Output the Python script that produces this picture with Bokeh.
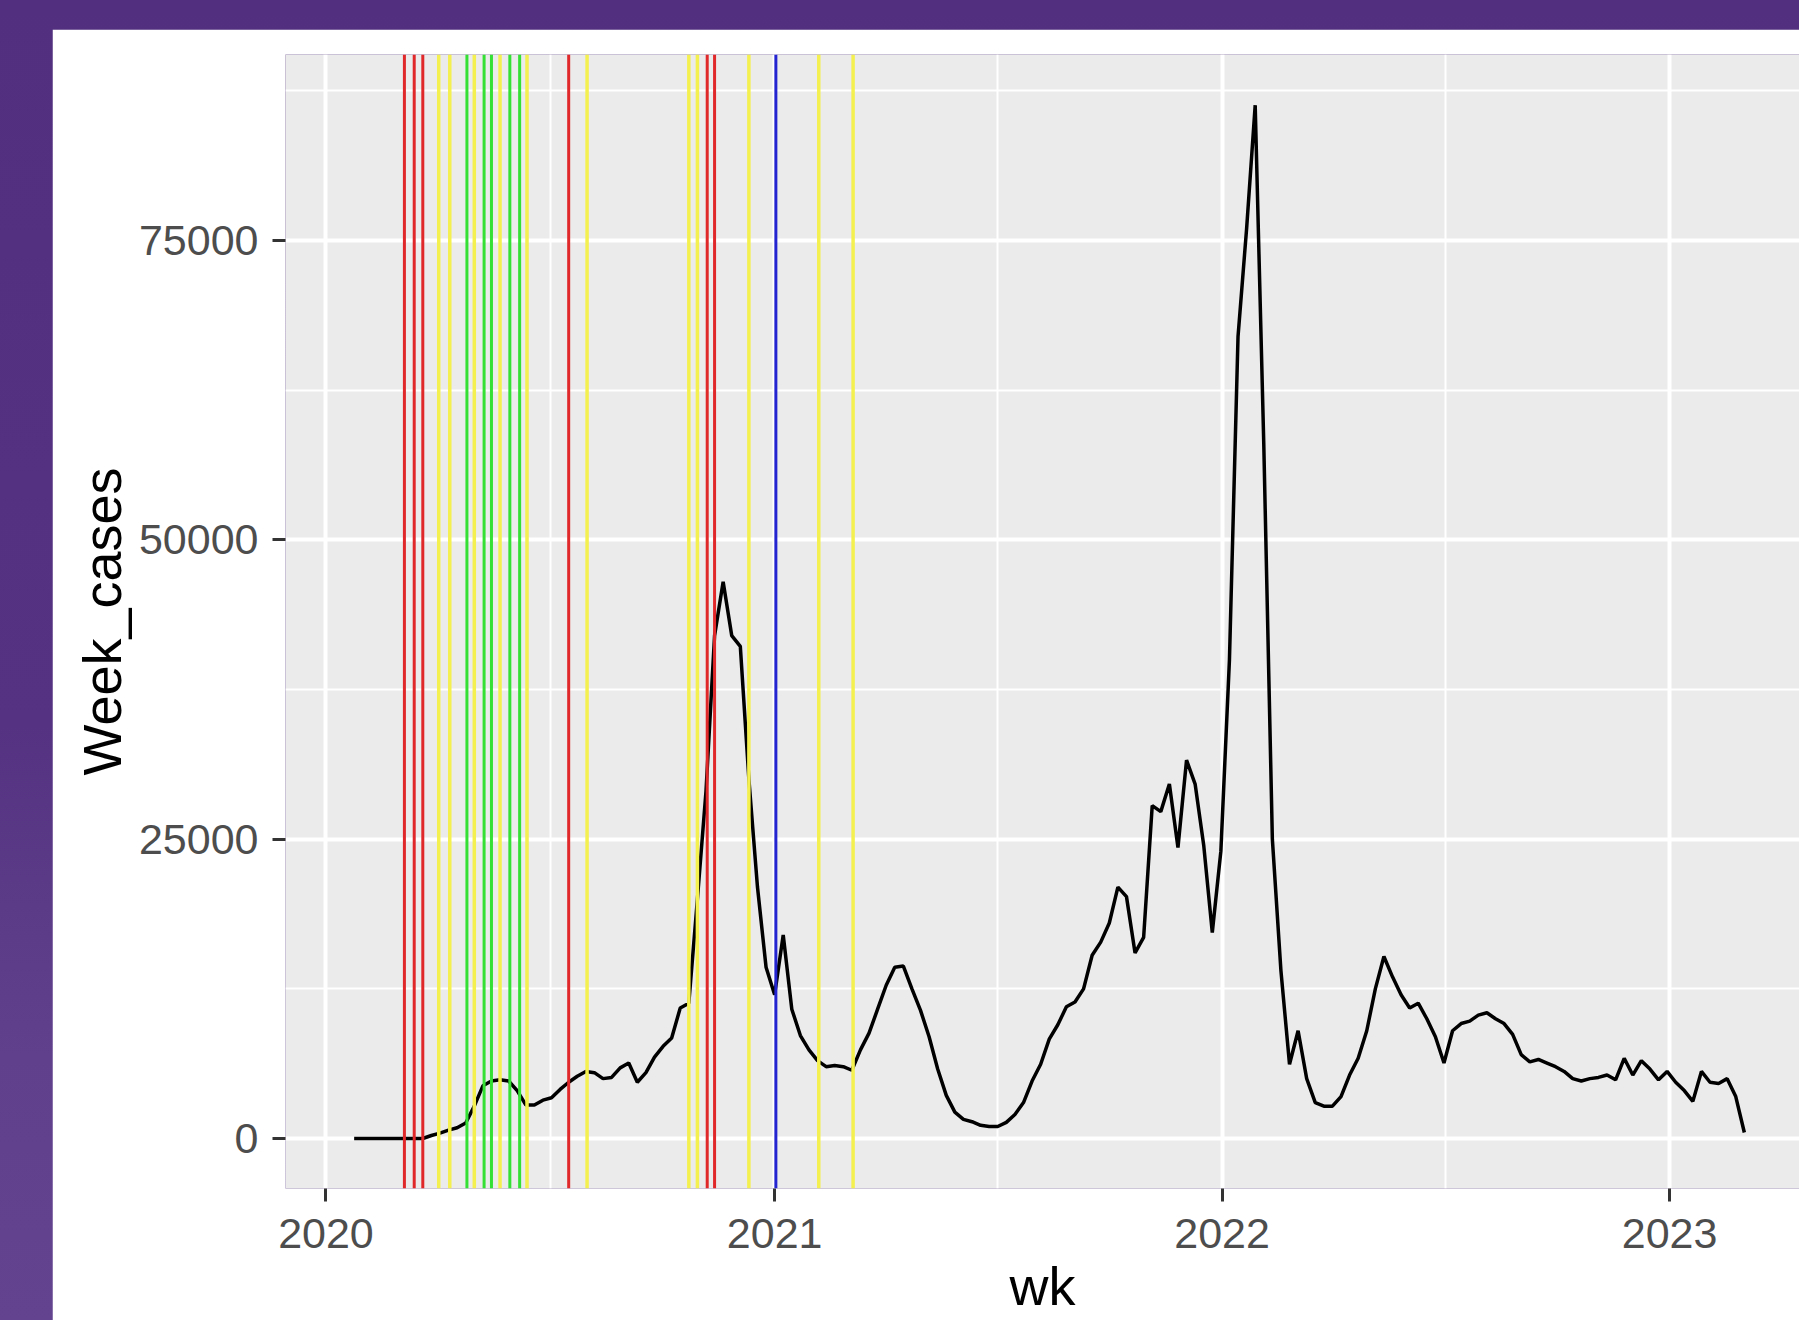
import pandas as pd
from bokeh.plotting import figure
from bokeh.models import Range1d, FixedTicker, DatetimeTickFormatter, Span, BasicTickFormatter
from bokeh.layouts import column
from bokeh.embed import file_html
from bokeh.resources import INLINE

# ---------------- data ----------------
first_week = "2020-01-24"
week_cases = [
    0, 0, 0, 0, 0, 0, 0, 0, 0,
    250, 450, 700, 900, 1300,
    2700, 4400, 4800, 4900, 4800,
    4000, 2800, 2800, 3200, 3400,
    4100, 4700, 5200, 5600, 5500,
    5000, 5100, 5900, 6300, 4700,
    5500, 6800, 7700, 8400, 10900,
    11300, 20000, 29000, 42000, 46500,
    42000, 41100, 30000, 21000, 14300,
    12000, 17000, 10800, 8600, 7400,
    6500, 6000, 6100, 6000, 5700,
    7400, 8800, 10800, 12800, 14300,
    14400, 12500, 10700, 8500, 5800,
    3600, 2200, 1600, 1400, 1100,
    1000, 1000, 1350, 2000, 3000,
    4800, 6200, 8300, 9500, 11000,
    11400, 12500, 15300, 16400, 18000,
    21000, 20200, 15500, 16800, 27800,
    27300, 29600, 24300, 31600, 29600,
    24500, 17200, 24000, 40000, 67000,
    76000, 86300, 58000, 25000, 14000,
    6200, 9000, 5000, 3000, 2700,
    2700, 3500, 5300, 6700, 9000,
    12500, 15200, 13500, 12000, 10900,
    11300, 10000, 8500, 6300, 9000,
    9600, 9800, 10300, 10500, 10000,
    9600, 8700, 7000, 6400, 6600,
    6300, 6000, 5600, 5000, 4800,
    5000, 5100, 5300, 4900, 6700,
    5300, 6500, 5800, 4900, 5600,
    4700, 4000, 3100, 5600, 4700,
    4600, 5000, 3500, 500,
]

red_dates = ["2020-03-05", "2020-03-13", "2020-03-20", "2020-07-17", "2020-11-07", "2020-11-13"]
yellow_dates = ["2020-04-02", "2020-04-11", "2020-05-01", "2020-05-22", "2020-06-13", "2020-08-01",
                "2020-10-23", "2020-10-30", "2020-12-11", "2021-02-06", "2021-03-06"]
green_dates = ["2020-04-25", "2020-05-09", "2020-05-15", "2020-05-30", "2020-06-07"]
blue_dates = ["2021-01-02"]

year_ticks = [2020, 2021, 2022, 2023]
y_ticks = [0, 25000, 50000, 75000]
y_minor = [12500, 37500, 62500, 87500]

x_start, x_end = "2019-11-29", "2023-04-17"
y_start, y_end = -4176, 90534

# ---------------- helpers ----------------
def ms(d):
    return pd.Timestamp(d).timestamp() * 1000.0

wk = pd.date_range(first_week, periods=len(week_cases), freq="7D")

p = figure(width=1747, height=1305, x_axis_type="datetime",
           output_backend="svg", toolbar_location=None,
           x_range=Range1d(ms(x_start), ms(x_end)),
           y_range=Range1d(y_start, y_end),
           min_border_left=233, min_border_right=0,
           min_border_top=25, min_border_bottom=146,
           margin=(29, 0, 0, 52))

p.background_fill_color = "#EBEBEB"
p.border_fill_color = "white"
p.outline_line_color = None

p.line(wk, week_cases, line_color="black", line_width=3.5)

for dates, col, w in ((red_dates, "#E0282A", 3), (yellow_dates, "#F4F050", 3.5),
                      (green_dates, "#33E033", 3), (blue_dates, "#2424D0", 3)):
    for d in dates:
        p.add_layout(Span(location=ms(d), dimension="height", line_color=col, line_width=w))

xt = FixedTicker(ticks=[ms(f"{y}-01-01") for y in year_ticks],
                 minor_ticks=[ms(f"{y}-07-02") for y in [2019] + year_ticks])
yt = FixedTicker(ticks=y_ticks, minor_ticks=y_minor)
p.xaxis.ticker = xt
p.yaxis.ticker = yt
p.xgrid.ticker = xt
p.ygrid.ticker = yt
p.xaxis.formatter = DatetimeTickFormatter(years="%Y", months="%Y", days="%Y")
p.yaxis.formatter = BasicTickFormatter(use_scientific=False)

p.grid.grid_line_color = "white"
p.grid.grid_line_width = 4
p.grid.minor_grid_line_color = "white"
p.grid.minor_grid_line_width = 2

p.xaxis.axis_label = "wk"
p.yaxis.axis_label = "Week_cases"
for ax in (p.xaxis[0], p.yaxis[0]):
    ax.axis_line_color = None
    ax.major_tick_out = 13
    ax.major_tick_in = 0
    ax.minor_tick_out = 0
    ax.minor_tick_in = 0
    ax.major_tick_line_color = "#333333"
    ax.major_tick_line_width = 3
    ax.major_label_text_font = "Liberation Sans"
    ax.major_label_text_font_size = "43px"
    ax.major_label_text_color = "#4D4D4D"
    ax.axis_label_text_font = "Liberation Sans"
    ax.axis_label_text_font_size = "54px"
    ax.axis_label_text_font_style = "normal"
    ax.axis_label_text_color = "black"
p.yaxis.major_label_standoff = 14
p.xaxis.major_label_standoff = 17
p.yaxis.axis_label_standoff = 4
p.xaxis.axis_label_standoff = 5

root = column(p, width=1799, height=1320,
              styles={"background": "linear-gradient(180deg, #52307f 0%, #553382 55%, #60408d 80%, #63438f 100%)",
                      "position": "absolute", "left": "0px", "top": "0px",
                      "overflow": "hidden"})

open("out.html", "w").write(file_html(root, INLINE))
